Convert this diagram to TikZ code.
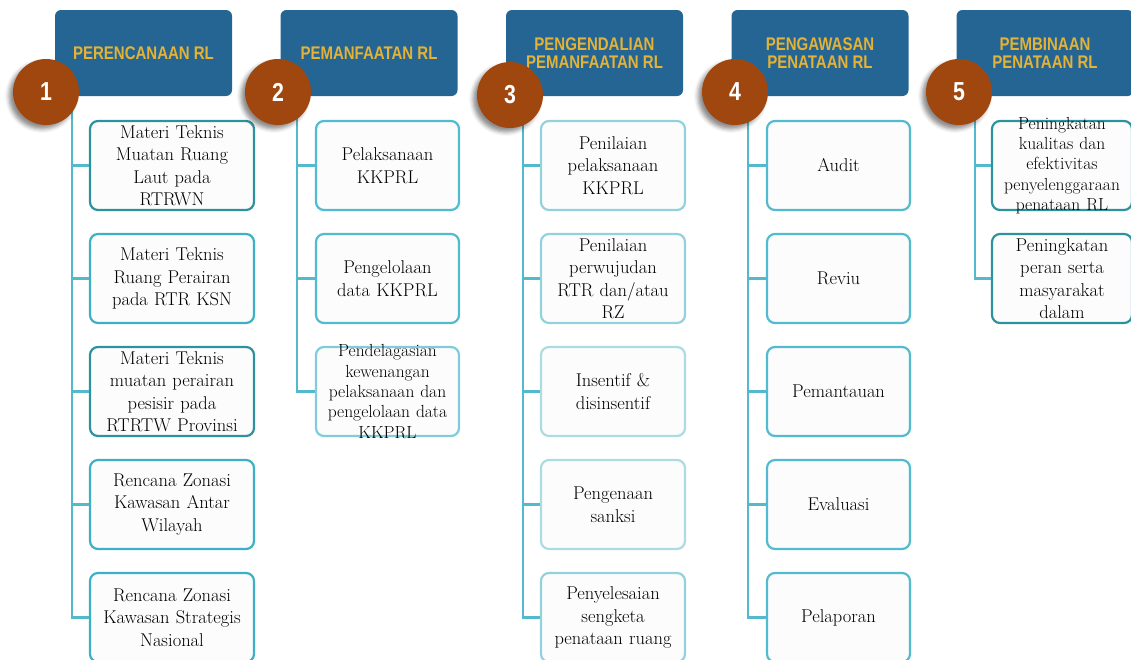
\documentclass[tikz,border=0pt]{standalone}
\usepackage{fontspec}
\newfontfamily\headfont[FakeStretch=0.82]{Liberation Sans}
\usetikzlibrary{shadows.blur}

\definecolor{headblue}{HTML}{246594}
\definecolor{headgold}{HTML}{E3B236}
\definecolor{numbrown}{HTML}{A0470F}
\definecolor{boxfill}{HTML}{FCFCFC}
\definecolor{linkcyan}{HTML}{55B9CE}
\definecolor{tealdark}{HTML}{2E929E}
\definecolor{tealmid}{HTML}{3CB0C4}
\definecolor{cyanmid}{HTML}{52BBCF}
\definecolor{cyanlight}{HTML}{82CBD9}
\definecolor{cyanpale}{HTML}{93D1DD}
\definecolor{cyanfaint}{HTML}{ADDBE3}

\tikzset{
  head/.style={fill=headblue, rounded corners=6pt, minimum width=177pt,
    minimum height=86pt, inner sep=0pt, align=center, text=headgold,
    font=\headfont\bfseries\fontsize{18.3}{18.5}\selectfont},
  num/.style={circle, fill=numbrown, minimum size=66pt, inner sep=0pt,
    text=white, font=\headfont\bfseries\fontsize{26}{26}\selectfont,
    blur shadow={shadow xshift=-4pt, shadow yshift=-4pt,
      shadow blur radius=4pt, shadow opacity=45}},
  item/.style={draw, line width=2.2pt, fill=boxfill, rounded corners=8pt,
    minimum height=89pt, inner sep=0pt, align=center,
    font=\fontsize{18.5}{22.5}\selectfont},
  over/.style={inner sep=0pt, align=center, text width=140pt,
    font=\fontsize{17.5}{20.4}\selectfont},
  colA/.style={item, minimum width=164pt, text width=160pt},
  colB/.style={item, minimum width=143pt, text width=140pt},
  colC/.style={item, minimum width=144pt, text width=140pt},
  colD/.style={item, minimum width=143pt, text width=140pt},
  colE/.style={item, minimum width=140pt, text width=138pt},
  link/.style={draw=linkcyan, line width=2.4pt},
}

\begin{document}
\begin{tikzpicture}[x=1pt, y=-1pt]
  \useasboundingbox (0,0) rectangle (1131,659);
  \clip (0,0) rectangle (1131,659);

  % headers
  \node[head] (h1) at (143.5,53) {PERENCANAAN RL};
  \node[head] (h2) at (369,53) {PEMANFAATAN RL};
  \node[head] (h3) at (594.5,53) {PENGENDALIAN\\PEMANFAATAN RL};
  \node[head] (h4) at (820,53) {PENGAWASAN\\PENATAAN RL};
  \node[head] (h5) at (1045,53) {PEMBINAAN\\PENATAAN RL};

  % column 1
  \node[colA, draw=tealdark] (b11) at (172,165.5) {Materi Teknis\\Muatan Ruang\\Laut pada\\RTRWN};
  \node[colA, draw=tealmid] (b12) at (172,278.5) {Materi Teknis\\Ruang Perairan\\pada RTR KSN};
  \node[colA, draw=tealdark] (b13) at (172,391.5) {Materi Teknis\\muatan perairan\\pesisir pada\\RTRTW Provinsi};
  \node[colA, draw=tealmid] (b14) at (172,504.5) {Rencana Zonasi\\Kawasan Antar\\Wilayah};
  \node[colA, draw=tealmid] (b15) at (172,617.5) {Rencana Zonasi\\Kawasan Strategis\\Nasional};

  % column 2
  \node[colB, draw=cyanmid] (b21) at (387.5,165.5) {Pelaksanaan\\KKPRL};
  \node[colB, draw=cyanmid] (b22) at (387.5,278.5) {Pengelolaan\\data KKPRL};
  \node[colB, draw=cyanlight, label={[over]center:{Pendelagasian\\kewenangan\\pelaksanaan dan\\pengelolaan data\\KKPRL}}] (b23) at (387.5,391.5) {};

  % column 3
  \node[colC, draw=cyanpale] (b31) at (613,165.5) {Penilaian\\pelaksanaan\\KKPRL};
  \node[colC, draw=cyanpale] (b32) at (613,278.5) {Penilaian\\perwujudan\\RTR dan/atau\\RZ};
  \node[colC, draw=cyanfaint] (b33) at (613,391.5) {Insentif \&\\disinsentif};
  \node[colC, draw=cyanfaint] (b34) at (613,504.5) {Pengenaan\\sanksi};
  \node[colC, draw=cyanpale] (b35) at (613,617.5) {Penyelesaian\\sengketa\\penataan ruang};

  % column 4
  \node[colD, draw=cyanmid] (b41) at (838.5,165.5) {Audit};
  \node[colD, draw=cyanmid] (b42) at (838.5,278.5) {Reviu};
  \node[colD, draw=cyanmid] (b43) at (838.5,391.5) {Pemantauan};
  \node[colD, draw=cyanmid] (b44) at (838.5,504.5) {Evaluasi};
  \node[colD, draw=cyanmid] (b45) at (838.5,617.5) {Pelaporan};

  % column 5
  \node[colE, draw=tealdark, label={[over]center:{Peningkatan\\kualitas dan\\efektivitas\\penyelenggaraan\\penataan RL}}] (b51) at (1062,165.5) {};
  \node[colE, draw=tealdark] (b52) at (1062,278.5) {Peningkatan\\peran serta\\masyarakat\\dalam};

  % trunks
  \coordinate (t1) at (72,96);
  \coordinate (t2) at (297,96);
  \coordinate (t3) at (523,96);
  \coordinate (t4) at (748,96);
  \coordinate (t5) at (975,96);

  \draw[link] (t1) |- (b11.west);
  \draw[link] (t1) |- (b12.west);
  \draw[link] (t1) |- (b13.west);
  \draw[link] (t1) |- (b14.west);
  \draw[link] (t1) |- (b15.west);

  \draw[link] (t2) |- (b21.west);
  \draw[link] (t2) |- (b22.west);
  \draw[link] (t2) |- (b23.west);

  \draw[link] (t3) |- (b31.west);
  \draw[link] (t3) |- (b32.west);
  \draw[link] (t3) |- (b33.west);
  \draw[link] (t3) |- (b34.west);
  \draw[link] (t3) |- (b35.west);

  \draw[link] (t4) |- (b41.west);
  \draw[link] (t4) |- (b42.west);
  \draw[link] (t4) |- (b43.west);
  \draw[link] (t4) |- (b44.west);
  \draw[link] (t4) |- (b45.west);

  \draw[link] (t5) |- (b51.west);
  \draw[link] (t5) |- (b52.west);

  % numbers
  \node[num] (n1) at (46,92) {1};
  \node[num] (n2) at (278,92) {2};
  \node[num] (n3) at (510,95) {3};
  \node[num] (n4) at (735,92) {4};
  \node[num] (n5) at (959,92) {5};
\end{tikzpicture}
\end{document}
